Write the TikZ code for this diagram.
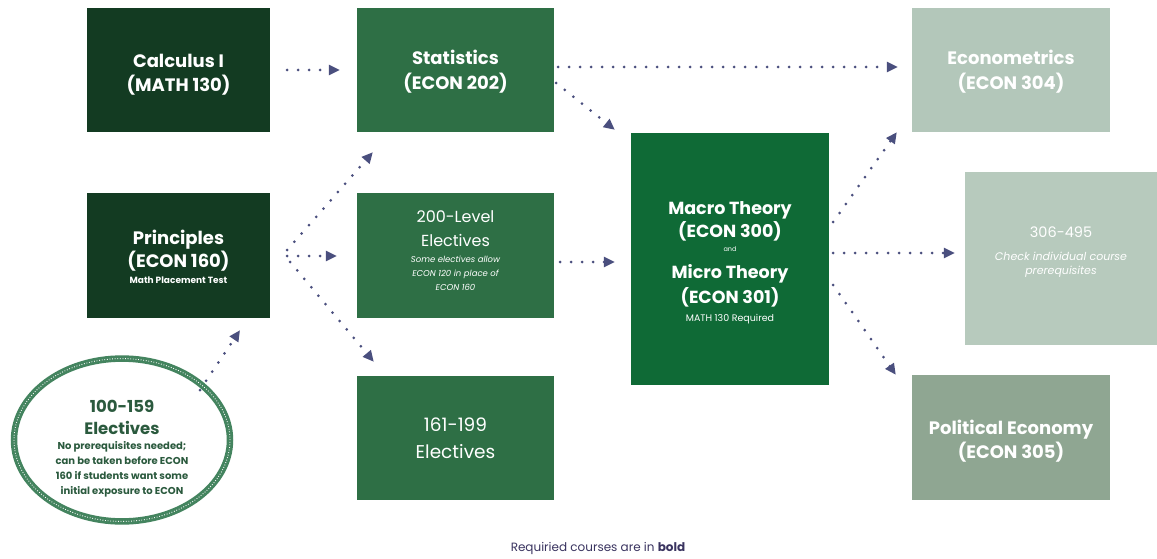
\documentclass[tikz,border=0pt]{standalone}
\usepackage{fontspec}
\setmainfont{Poppins}
\usetikzlibrary{arrows.meta,calc,shapes.geometric}
\definecolor{darkg}{HTML}{133B22}
\definecolor{midg}{HTML}{2E6F45}
\definecolor{coreg}{HTML}{0F6A36}
\definecolor{lightg}{HTML}{B3C7BA}
\definecolor{paleg}{HTML}{B7CABD}
\definecolor{grayg}{HTML}{8FA692}
\definecolor{ropeg}{HTML}{44845F}
\definecolor{elltext}{HTML}{2B5A3E}
\definecolor{arrc}{HTML}{4A4F7E}
\definecolor{foot}{HTML}{3A3460}
\newcommand{\tightlines}{\fontsize{10}{0}\selectfont\lineskiplimit=-1000pt\lineskip=0pt}
\newcommand{\Tb}[2][18]{{\fontsize{#1}{0}\selectfont\bfseries #2}}
\newcommand{\Tr}[2][16]{{\fontsize{#1}{0}\selectfont #2}}
\newcommand{\Sm}[2][9]{{\fontsize{#1}{0}\selectfont #2}}
\newcommand{\Si}[2][8.5]{{\fontsize{#1}{0}\selectfont\itshape #2}}
\newcommand{\up}[1]{\rule{0pt}{#1}}
\newcommand{\dn}[1]{\rule[-#1]{0pt}{0pt}}
\tikzset{
  box/.style={rectangle, inner sep=0pt, align=center, text=white, font=\tightlines},
  arr/.style={draw=arrc, line width=3pt, line cap=round, dash pattern=on 0pt off 11pt,
    -{Triangle[length=11pt,width=10pt]}},
}
\begin{document}
\begin{tikzpicture}[x=1pt,y=-1pt]
\fill[white] (0,0) rectangle (1157,559);
\useasboundingbox (0,0) rectangle (1157,559);

\node[box, fill=darkg, minimum width=183pt, minimum height=124pt] (calc) at (178.5,70)
  {\up{22.5pt}\Tb{Calculus I}\\[24pt]\Tb{(MATH 130)}};
\node[box, fill=darkg, minimum width=183pt, minimum height=125pt] (prin) at (178.5,255.5)
  {\up{17.5pt}\Tb{Principles}\\[23pt]\Tb{(ECON 160)}\\[16.5pt]\Sm[9]{\bfseries Math Placement Test}};
\node[box, fill=midg, minimum width=197pt, minimum height=124pt] (stat) at (455.5,70)
  {\up{17.5pt}\Tb{Statistics}\\[25pt]\Tb{(ECON 202)}};
\node[box, fill=midg, minimum width=197pt, minimum height=125pt] (e200) at (455.5,255.5)
  {\Tr{200-Level}\\[24pt]\Tr{Electives}\\[16pt]\Si{Some electives allow}\\[14pt]\Si{ECON 120 in place of}\\[14pt]\Si{ECON 160}\dn{10pt}};
\node[box, fill=midg, minimum width=197pt, minimum height=124pt] (e161) at (455.5,438)
  {\Tr[18.5]{161-199}\\[27pt]\Tr[18.5]{Electives}};
\node[box, fill=coreg, minimum width=198pt, minimum height=252pt] (macro) at (730,259)
  {\up{20pt}\Tb[17.5]{Macro Theory}\\[23pt]\Tb[17.5]{(ECON 300)}\\[14pt]\Sm[6.5]{and}\\[27pt]\Tb[17.5]{Micro Theory}\\[25pt]\Tb[17.5]{(ECON 301)}\\[17.5pt]\Sm[9.5]{MATH 130 Required}};
\node[box, fill=lightg, minimum width=198pt, minimum height=124pt] (econ) at (1011,70)
  {\up{17.5pt}\Tb{Econometrics}\\[25pt]\Tb{(ECON 304)}};
\node[box, fill=paleg, minimum width=192pt, minimum height=173pt] (upper) at (1061,258.5)
  {\Tr[14.5]{306-495}\\[23pt]\Si[11]{Check individual course}\\[14pt]\Si[11]{prerequisites}\dn{16.5pt}};
\node[box, fill=grayg, minimum width=198pt, minimum height=125pt] (pol) at (1011,437.5)
  {\up{21.5pt}\Tb{Political Economy}\\[24pt]\Tb{(ECON 305)}};

\node[ellipse, draw=ropeg, line width=6.5pt, minimum width=216pt, minimum height=146pt, inner sep=0pt,
  align=center, text=elltext, font=\tightlines,
  postaction={draw=white, line width=0.9pt, dash pattern=on 0.8pt off 1.8pt}] (ell) at (122,440)
  {\up{30pt}\Tb[16.5]{100-159}\\[22pt]\Tb[16.5]{Electives}\\[15.5pt]
   \Sm[10]{\bfseries No prerequisites needed;}\\[15pt]
   \Sm[10]{\bfseries can be taken before ECON}\\[15pt]
   \Sm[10]{\bfseries 160 if students want some}\\[15pt]
   \Sm[10]{\bfseries initial exposure to ECON}};

\node[text=foot, font=\fontsize{12}{14}\selectfont] (note) at (598,548) {Requiried courses are in \textbf{bold}};

\draw[arr] ($(calc.east)+(17,0)$) -- ($(stat.west)+(-17,0)$);
\draw[arr] ($(stat.east)+(4,-3)$) -- ($(econ.west)+(-14,-3)$);
\draw[arr] ($(stat.east)+(2,13)$) -- ($(macro.north west)+(-16,-3)$);
\draw[arr] ($(prin.east)+(17,-5.5)$) -- ($(stat.south west)+(16,20)$);
\draw[arr] ($(prin.east)+(17,0.5)$) -- ($(e200.west)+(-20,0.5)$);
\draw[arr] ($(prin.east)+(20,6.5)$) -- ($(e161.north west)+(17,-14)$);
\draw[arr] ($(e200.east)+(6,6.5)$) -- ($(macro.west)+(-16,3)$);
\draw[arr] ($(ell.center)+(78,-50)$) -- ($(prin.south)+(61.5,12)$);
\draw[arr] ($(macro.east)+(4,-37)$) -- ($(econ.south west)+(-15,0)$);
\draw[arr] ($(macro.east)+(4,-6)$) -- ($(upper.west)+(-10,-5.5)$);
\draw[arr] ($(macro.east)+(4,26)$) -- ($(pol.north west)+(-16,0)$);
\end{tikzpicture}
\end{document}
